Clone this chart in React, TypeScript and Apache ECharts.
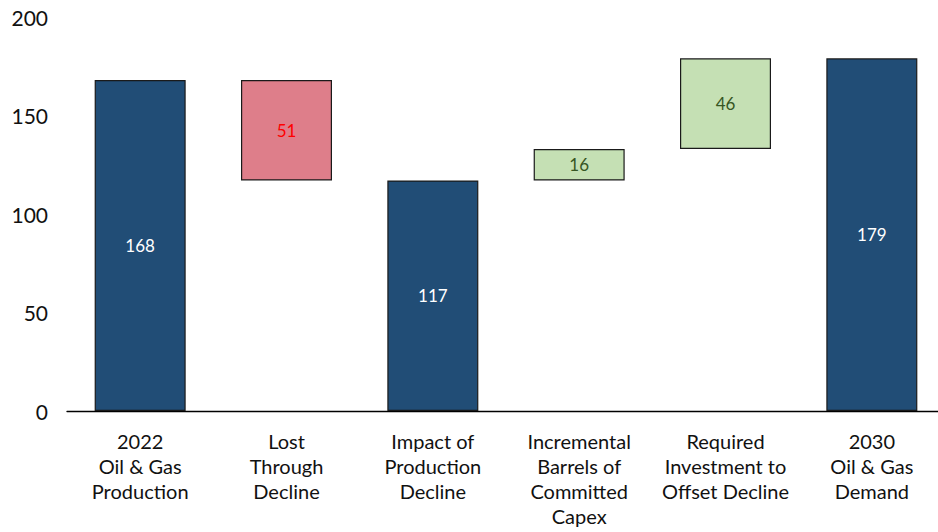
import React, { useEffect, useRef } from "react";
import * as echarts from "echarts";

const categories = [
  "2022\nOil & Gas\nProduction",
  "Lost\nThrough\nDecline",
  "Impact of\nProduction\nDecline",
  "Incremental\nBarrels of\nCommitted\nCapex",
  "Required\nInvestment to\nOffset Decline",
  "2030\nOil & Gas\nDemand",
];
const baseValues = [0, 117, 0, 117, 133, 0];
const barValues = [168, 51, 117, 16, 46, 179];
const barKinds = ["total", "decrease", "total", "increase", "increase", "total"];
const yTicks = [0, 50, 100, 150, 200];

const kindStyle: Record<string, { fill: string; text: string }> = {
  total: { fill: "#214D76", text: "#FFFFFF" },
  decrease: { fill: "#DE7E8A", text: "#FF0000" },
  increase: { fill: "#C5E0B4", text: "#375623" },
};

export default function App() {
  const ref = useRef<HTMLDivElement>(null);
  useEffect(() => {
    if (!ref.current) return;
    const chart = echarts.init(ref.current, undefined, { renderer: "svg" });
    const font = "Lato, 'Open Sans', sans-serif";
    chart.setOption({
      animation: false,
      grid: { left: 67, top: 17, width: 878, height: 394, containLabel: false },
      xAxis: {
        type: "category",
        data: categories,
        axisLine: { show: true, lineStyle: { color: "#000", width: 1.3 } },
        axisTick: { show: false },
        axisLabel: {
          color: "#111",
          fontFamily: font,
          fontSize: 20,
          lineHeight: 25,
          margin: 17,
          interval: 0,
        },
      },
      yAxis: {
        type: "value",
        min: yTicks[0],
        max: yTicks[yTicks.length - 1],
        interval: 50,
        splitLine: { show: false },
        axisLine: { show: false },
        axisTick: { show: false },
        axisLabel: { color: "#111", fontFamily: font, fontSize: 21, margin: 19 },
      },
      series: [
        {
          type: "bar",
          stack: "w",
          data: baseValues,
          barWidth: 91,
          itemStyle: { color: "transparent" },
          silent: true,
        },
        {
          type: "bar",
          stack: "w",
          barWidth: 91,
          data: barValues.map((v, i) => ({
            value: v,
            itemStyle: {
              color: kindStyle[barKinds[i]].fill,
              borderColor: "#1a1a1a",
              borderWidth: 1.2,
            },
            label: { color: kindStyle[barKinds[i]].text },
          })),
          label: {
            show: true,
            position: "inside",
            fontFamily: font,
            fontSize: 17,
          },
        },
      ],
    });
    return () => chart.dispose();
  }, []);
  return (
    <div
      style={{ position: "fixed", left: 0, top: 0, width: 938, height: 532, overflow: "hidden", background: "#fff" }}
    >
      <div ref={ref} style={{ width: 960, height: 532 }} />
    </div>
  );
}
